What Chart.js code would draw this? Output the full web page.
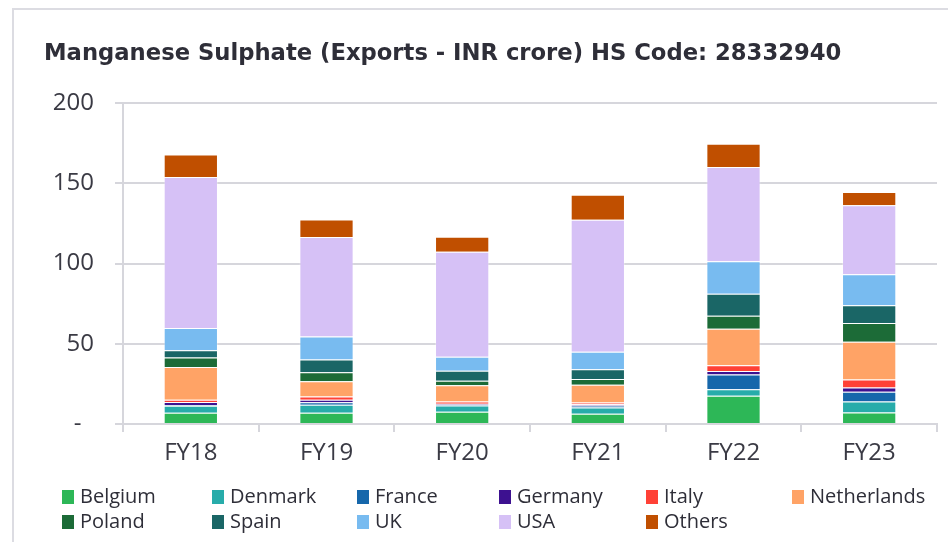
<!DOCTYPE html>
<html>
<head>
<meta charset="utf-8">
<title>Manganese Sulphate Exports</title>
<script src="https://cdn.jsdelivr.net/npm/chart.js"></script>
<style>
  html, body { margin: 0; padding: 0; background: #fff; }
  body { width: 948px; height: 542px; overflow: hidden; position: relative; }
  .frame {
    position: absolute; left: 12px; top: 8px; width: 1000px; height: 600px;
    border-left: 2px solid #dcdce2; border-top: 2px solid #dcdce2;
  }
  #chartBox { position: absolute; left: 0; top: 0; width: 948px; height: 542px; }
</style>
</head>
<body>
<div class="frame"></div>
<div id="chartBox"><canvas id="exportsChart"></canvas></div>
<script>
// Exports by destination, INR crore
const years = ['FY18', 'FY19', 'FY20', 'FY21', 'FY22', 'FY23'];
const belgium     = [7.0, 7.0, 7.6, 6.4, 17.6, 7.2];
const denmark     = [4.4, 5.0, 3.9, 3.9, 4.1, 6.9];
const france      = [0.4, 1.6, 0.6, 1.2, 9.2, 6.0];
const germany     = [1.9, 1.5, 0.6, 0.8, 2.1, 2.7];
const italy       = [1.4, 2.1, 1.4, 1.1, 3.7, 5.0];
const netherlands = [20.4, 9.5, 10.0, 11.0, 22.7, 23.5];
const poland      = [6.0, 5.6, 2.9, 3.7, 8.1, 11.6];
const spain       = [4.5, 7.9, 6.2, 6.0, 13.7, 11.2];
const uk          = [13.9, 14.4, 8.7, 11.0, 20.3, 19.2];
const usa         = [94.1, 62.0, 65.5, 82.2, 58.7, 43.1];
const others      = [14.1, 10.9, 9.4, 15.6, 14.6, 8.3];
const yTicks = [0, 50, 100, 150, 200];

const FONT = '"Open Sans", "Noto Sans", sans-serif';
const TITLE_FONT = '"DejaVu Sans", "Open Sans", sans-serif';
const TEXT = '#2e2e38';
const TICK_TEXT = '#3a3a44';
const GRID = '#d6d6dc';

function series(label, data, color) {
    return {
        label: label,
        data: data,
        backgroundColor: color,
        borderColor: 'rgba(255, 255, 255, 0.3)',
        borderWidth: 1
    };
}

// Legend drawn as a fixed grid of six columns under the axis
const gridLegend = {
    id: 'gridLegend',
    afterDraw(chart) {
        const ctx = chart.ctx;
        const cols = [62, 212, 357, 499, 646, 792];
        const rows = [497, 522];
        ctx.save();
        ctx.font = '20px ' + FONT;
        ctx.textBaseline = 'middle';
        ctx.textAlign = 'left';
        chart.data.datasets.forEach(function(ds, i) {
            const x = cols[i % 6];
            const y = rows[Math.floor(i / 6)];
            ctx.fillStyle = ds.backgroundColor;
            ctx.fillRect(x, y - 7, 12, 14);
            ctx.fillStyle = TEXT;
            ctx.fillText(ds.label, x + 18, y);
        });
        ctx.restore();
    }
};

new Chart(document.getElementById('exportsChart').getContext('2d'), {
    type: 'bar',
    data: {
        labels: years,
        datasets: [
            series('Belgium', belgium, '#2db757'),
            series('Denmark', denmark, '#27acaa'),
            series('France', france, '#1667ab'),
            series('Germany', germany, '#3d1190'),
            series('Italy', italy, '#ff4136'),
            series('Netherlands', netherlands, '#ffa366'),
            series('Poland', poland, '#1c6b37'),
            series('Spain', spain, '#1a6666'),
            series('UK', uk, '#78bbf0'),
            series('USA', usa, '#d6c1f6'),
            series('Others', others, '#c04f00')
        ]
    },
    options: {
        responsive: true,
        maintainAspectRatio: false,
        animation: false,
        layout: {
            padding: { left: 44, right: 11, top: 0, bottom: 68 }
        },
        datasets: {
            bar: { barPercentage: 1, categoryPercentage: 0.4 }
        },
        plugins: {
            legend: { display: false },
            tooltip: { enabled: false },
            title: {
                display: true,
                text: 'Manganese Sulphate (Exports - INR crore) HS Code: 28332940',
                align: 'start',
                color: TEXT,
                font: { family: TITLE_FONT, size: 22.7, weight: 'bold', lineHeight: 1.2 },
                padding: { top: 40, bottom: 36 }
            }
        },
        scales: {
            x: {
                stacked: true,
                grid: { drawOnChartArea: false, color: GRID, lineWidth: 2, tickLength: 8 },
                border: { color: GRID, width: 2 },
                ticks: { padding: 7, color: TICK_TEXT, font: { family: FONT, size: 24 } },
                afterFit: function(scale) { scale.height = 50; }
            },
            y: {
                stacked: true,
                min: yTicks[0],
                max: yTicks[yTicks.length - 1],
                grid: { color: GRID, lineWidth: 2, tickLength: 8 },
                border: { color: GRID, width: 2 },
                ticks: {
                    stepSize: yTicks[1] - yTicks[0],
                    padding: 21,
                    color: TICK_TEXT,
                    font: { family: FONT, size: 24 },
                    callback: function(value) {
                        return value === 0 ? '-  ' : value;
                    }
                },
                afterFit: function(scale) { scale.width = 79; }
            }
        }
    },
    plugins: [gridLegend]
});
</script>
</body>
</html>
